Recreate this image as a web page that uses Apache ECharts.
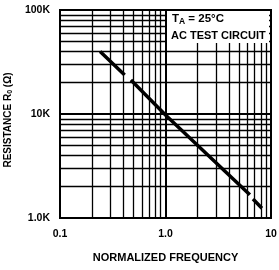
<!DOCTYPE html>
<html><head><meta charset="utf-8">
<script src="https://cdn.jsdelivr.net/npm/echarts@6/dist/echarts.min.js"></script>
<style>html,body{margin:0;padding:0;background:#fff}#c{width:279px;height:270px}</style>
</head><body><div id="c"></div>
<script>
// Data (null = gap in the dashed curve)
const freq = [0.24, 0.41, 0.44, 0.47, 1.0, 6.3, 6.5, 6.75, 8.2];
const resistance = [40000, 23700, null, 21200, 9800, 1670, null, 1520, 1240];
const xTickValues = [0.1, 1, 10];
const xTickLabels = ['0.1', '1.0', '10'];
const yTickValues = [1000, 10000, 100000];
const yTickLabels = ['1.0K', '10K', '100K'];
const xMinorGrid = [0.2,0.3,0.4,0.5,0.6,0.7,0.8,0.9,2,3,4,5,6,7,8,9];
const yMinorGrid = [2000,3000,4000,5000,6000,7000,8000,9000,20000,30000,40000,50000,60000,70000,80000,90000];

const FONT = "'Liberation Sans',Arial,sans-serif";
function nearestLabel(v, vals, labs){
  let best=0, d=Infinity;
  vals.forEach((t,i)=>{const dd=Math.abs(Math.log10(v)-Math.log10(t)); if(dd<d){d=dd;best=i;}});
  return labs[best];
}
const chart = echarts.init(document.getElementById('c'), null, {renderer:'canvas'});
chart.setOption({
  animation:false,
  backgroundColor:'#fff',
  grid:{left:60, top:10, right:8, bottom:52, outerBoundsMode:'none', containLabel:false,
        show:true, borderColor:'#000', borderWidth:2, backgroundColor:'transparent'},
  xAxis:{type:'log', logBase:10, min:0.1, max:10,
    name:'NORMALIZED FREQUENCY', nameLocation:'middle', nameGap:34,
    nameTextStyle:{fontFamily:FONT, fontWeight:'bold', fontSize:11, color:'#000'},
    axisLine:{show:false}, axisTick:{show:false},
    axisLabel:{margin:11, fontFamily:FONT, fontWeight:'bold', fontSize:10.5, color:'#000',
      formatter:v=>nearestLabel(v,xTickValues,xTickLabels)},
    splitLine:{show:true, lineStyle:{color:'#000', width:2}}},
  yAxis:{type:'log', logBase:10, min:1000, max:100000,
    name:'{n|RESISTANCE R}{s|0}{n| (Ω)}', nameLocation:'middle', nameGap:46, nameRotate:90,
    nameTextStyle:{padding:[0,12,0,0], rich:{
      n:{fontFamily:FONT, fontWeight:'bold', fontSize:10, color:'#000'},
      s:{fontFamily:FONT, fontWeight:'bold', fontSize:7, color:'#000', verticalAlign:'bottom', padding:[4,0,0,0]}}},
    axisLine:{show:false}, axisTick:{show:false},
    axisLabel:{margin:10, fontFamily:FONT, fontWeight:'bold', fontSize:10.5, color:'#000',
      formatter:v=>nearestLabel(v,yTickValues,yTickLabels)},
    splitLine:{show:true, lineStyle:{color:'#000', width:2}}},
  series:[
    {type:'line', data:[], z:1, silent:true,
     markLine:{silent:true, symbol:['none','none'], label:{show:false}, animation:false,
       lineStyle:{color:'#000', width:1.3, type:'solid'},
       data:[...xMinorGrid.map(v=>({xAxis:v})), ...yMinorGrid.map(v=>({yAxis:v}))]}},
    {type:'line', z:5, symbol:'none', connectNulls:false,
     data:freq.map((f,i)=>[f, resistance[i]==null ? '-' : resistance[i]]),
     lineStyle:{color:'#000', width:3.5, type:'solid', cap:'butt'}}
  ],
  graphic:[
    {type:'rect', left:167, top:11, z:100, shape:{width:102, height:32}, style:{fill:'#fff'}},
    {type:'text', left:172, top:13, z:101, style:{text:'{b|T}{s|A}{b| = 25°C}',
      rich:{b:{fontFamily:FONT, fontWeight:'bold', fontSize:11.5, fill:'#000'},
            s:{fontFamily:FONT, fontWeight:'bold', fontSize:8.5, fill:'#000', verticalAlign:'bottom', padding:[5,0,0,0]}}}},
    {type:'text', left:171, top:30, z:101, style:{text:'AC TEST CIRCUIT', fontFamily:FONT, fontWeight:'bold', fontSize:11, fill:'#000'}}
  ]
});
</script></body></html>
